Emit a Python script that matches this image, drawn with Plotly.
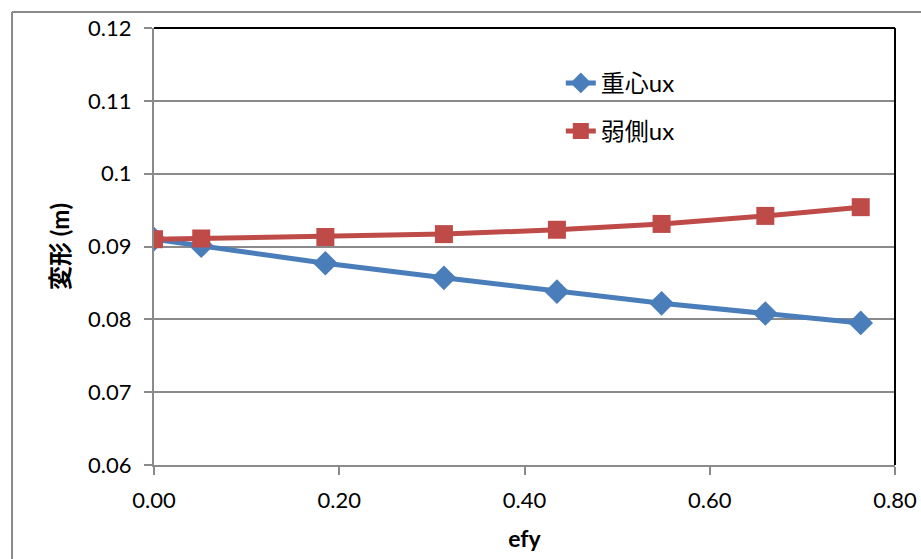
import plotly.graph_objects as go

efy = [0.0, 0.051, 0.185, 0.313, 0.435, 0.548, 0.660, 0.763]
center_ux = [0.0910, 0.0901, 0.0877, 0.0857, 0.0838, 0.0822, 0.0808, 0.0795]
weak_ux = [0.0910, 0.0911, 0.0913, 0.0917, 0.0923, 0.0931, 0.0942, 0.0954]

y_ticks = [0.06, 0.07, 0.08, 0.09, 0.10, 0.11, 0.12]
y_tick_labels = ["0.06", "0.07", "0.08", "0.09", "0.1", "0.11", "0.12"]
x_ticks = [0.0, 0.2, 0.4, 0.6, 0.8]
x_tick_labels = ["0.00", "0.20", "0.40", "0.60", "0.80"]

FONT = "Lato, 'Noto Sans CJK JP', sans-serif"
BLUE = "#4a7ebb"
RED = "#be4b48"
GRID = "#8a8a8a"

fig = go.Figure()
fig.add_trace(go.Scatter(
    x=efy, y=center_ux, mode="lines+markers", name="重心ux",
    line=dict(color=BLUE, width=5),
    marker=dict(symbol="diamond", size=19, color=BLUE),
    legendgroup="a",
))
fig.add_trace(go.Scatter(
    x=efy, y=weak_ux, mode="lines+markers", name="弱側ux",
    line=dict(color=RED, width=5),
    marker=dict(symbol="square", size=18, color=RED),
    legendgroup="b",
))

fig.update_layout(
    width=921, height=559,
    margin=dict(l=154, r=26, t=28, b=94),
    paper_bgcolor="white", plot_bgcolor="white",
    font=dict(family=FONT, size=22, color="black"),
    showlegend=True,
    legend=dict(
        x=0.549, y=0.925, xanchor="left", yanchor="top",
        bgcolor="rgba(0,0,0,0)", font=dict(size=24),
        traceorder="grouped", tracegroupgap=14,
    ),
    xaxis=dict(
        range=[0, 0.8], tickvals=x_ticks, ticktext=x_tick_labels,
        showgrid=False, zeroline=False, automargin=False,
        showline=True, linecolor=GRID, linewidth=2,
        ticks="outside", ticklen=8, tickcolor=GRID, tickwidth=1.5,
        ticklabelstandoff=7,
        title=dict(text="<b>efy</b>", font=dict(size=23), standoff=18),
    ),
    yaxis=dict(
        range=[0.06, 0.12], tickvals=y_ticks, ticktext=y_tick_labels,
        showgrid=True, gridcolor=GRID, gridwidth=1.5, zeroline=False, automargin=False,
        showline=True, linecolor=GRID, linewidth=2,
        ticks="outside", ticklen=8, tickcolor=GRID, tickwidth=1.5,
        ticklabelstandoff=8,
        title=dict(text="<b>変形 (m)</b>", font=dict(size=24), standoff=12),
    ),
    shapes=[
        dict(type="line", xref="paper", yref="paper", x0=0, x1=1, y0=1, y1=1,
             line=dict(color="black", width=2)),
        dict(type="line", xref="paper", yref="paper", x0=1, x1=1, y0=0, y1=1,
             line=dict(color="black", width=2)),
        dict(type="line", xref="paper", yref="paper", x0=-0.1916, x1=1.2, y0=1.0366, y1=1.0366,
             line=dict(color=GRID, width=2)),
        dict(type="line", xref="paper", yref="paper", x0=-0.1916, x1=-0.1916, y0=-0.3, y1=1.0366,
             line=dict(color=GRID, width=2)),
    ],
)

fig.write_html("out.html")
